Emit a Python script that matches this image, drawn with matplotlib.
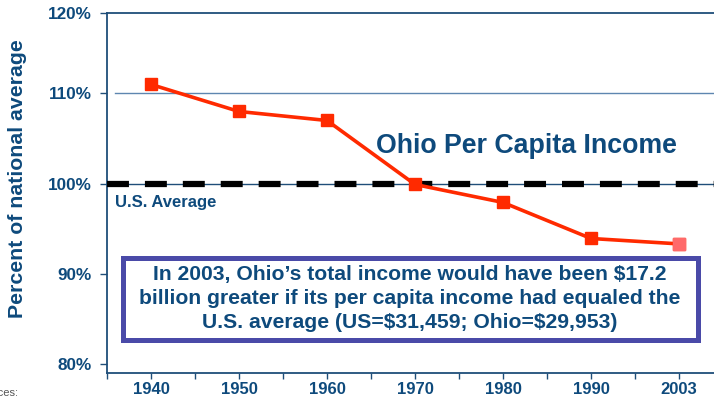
import matplotlib
matplotlib.use("Agg")
import matplotlib.pyplot as plt
from matplotlib.patches import Rectangle

plt.rcParams['font.family'] = ['Liberation Sans', 'DejaVu Sans']
plt.rcParams['font.weight'] = 'bold'
plt.rcParams['lines.scale_dashes'] = False
plt.rcParams['text.parse_math'] = False

years = ["1940", "1950", "1960", "1970", "1980", "1990", "2003"]
ohio_pct = [111.0, 108.0, 107.0, 99.9, 97.9, 93.9, 93.3]
us_avg = 100
ytick_vals = [80, 90, 100, 110, 118.9]
ytick_labels = ["80%", "90%", "100%", "110%", "120%"]
title = "Ohio Per Capita Income"
note = ("In 2003, Ohio\u2019s total income would have been $17.2\n"
        "billion greater if its per capita income had equaled the\n"
        "U.S. average (US=$31,459; Ohio=$29,953)")

TXT = '#0E4A7C'
AX = '#1F4E79'
RED = '#FF2A00'
PINK = '#FF6A6A'

W, H = 714, 397
fig = plt.figure(figsize=(W / 100, H / 100), dpi=100)
left, right, top, bottom = 107, 723, 13.3, 372.7
ax = fig.add_axes([left / W, 1 - bottom / H, (right - left) / W, (bottom - top) / H])

n = len(years)
xs = [i + 0.5 for i in range(n)]
ax.set_xlim(0, n)
ax.set_ylim(79, 118.9)

for s in ['left', 'bottom', 'top']:
    ax.spines[s].set_color(AX)
    ax.spines[s].set_linewidth(1.3)
ax.spines['right'].set_visible(False)

# gridline at 110
ax.axhline(110, xmin=0.013, xmax=1, color='#5E86B0', lw=1.0, zorder=1)
# US average
ax.axhline(us_avg, color=AX, lw=1.0, zorder=2)
ax.plot([0, n], [us_avg, us_avg], color='black', lw=4.5,
        dashes=(15.8, 11.5), solid_capstyle='butt', dash_capstyle='butt', zorder=3)

ax.plot(xs, ohio_pct, color=RED, lw=2.6, marker='s', markersize=8.5,
        markerfacecolor=RED, markeredgecolor=RED, zorder=5)
ax.plot(xs[-1:], ohio_pct[-1:], ls='none', marker='s', markersize=8.5,
        markerfacecolor=PINK, markeredgecolor=PINK, zorder=6)

ax.set_yticks(ytick_vals)
ax.set_yticklabels(ytick_labels)
ax.tick_params(axis='y', direction='out', length=5, width=1, color=AX,
               labelsize=12.3, labelcolor=TXT, pad=6)
ax.set_xticks(xs)
ax.set_xticklabels(years)
ax.set_xticks(range(n + 1), minor=True)
ax.tick_params(axis='x', which='both', direction='out', length=4, width=1,
               color=AX, labelsize=12, labelcolor=TXT, pad=3)
for lab in ax.get_xticklabels() + ax.get_yticklabels():
    lab.set_fontweight('bold')

fig.text(18 / W, 1 - 179 / H, "Percent of national average", rotation=90,
         ha='center', va='center', fontsize=15.3, color=TXT, fontweight='bold')

ax.text(3.06, 104.2, title, fontsize=19.3, color=TXT, fontweight='bold',
        ha='left', va='center')
ax.text(0.09, 97.9, "U.S. Average", fontsize=12, color=TXT,
        fontweight='bold', ha='left', va='center')

# note box
bx0, bx1, by0, by1 = 122.5, 697.5, 257.5, 339.5
fig.patches.append(Rectangle((bx0 / W, 1 - by1 / H), (bx1 - bx0) / W, (by1 - by0) / H,
                             transform=fig.transFigure, fill=True, facecolor='white',
                             edgecolor='#4A4AA8', linewidth=3.6, zorder=10))
fig.text((bx0 + bx1) / 2 / W, 1 - 298.5 / H, note, ha='center', va='center',
         fontsize=15.2, color=TXT, fontweight='bold', linespacing=1.33, zorder=11)

fig.text(18 / W, 1 - 393 / H, "Sources:", ha='right', va='center',
         fontsize=8, color='#555555', fontweight='normal')

fig.savefig("out.png", dpi=100)
